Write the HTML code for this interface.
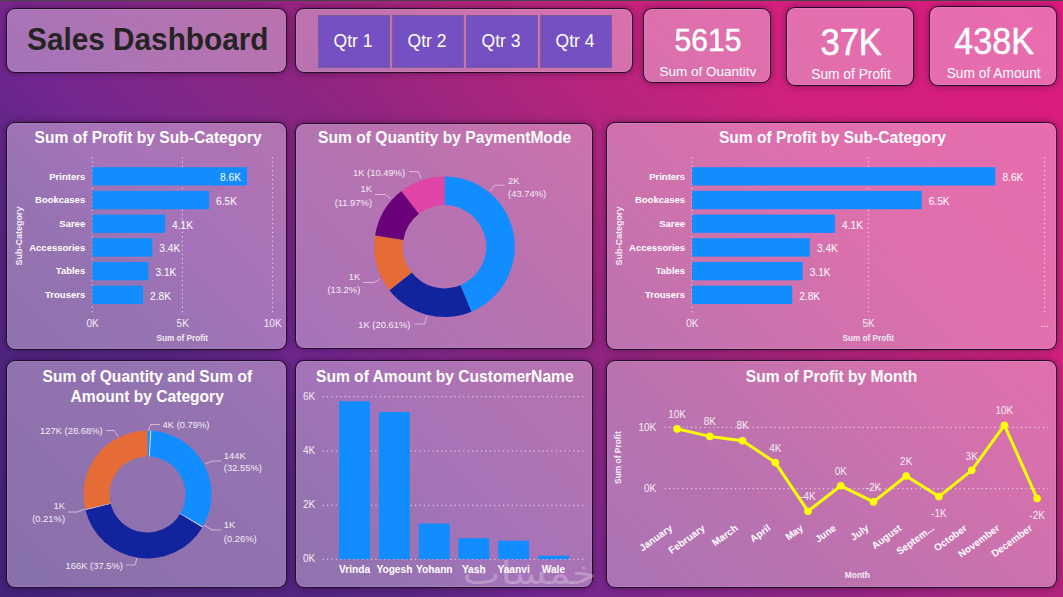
<!DOCTYPE html>
<html><head><meta charset="utf-8"><title>Sales Dashboard</title>
<style>
*{box-sizing:border-box;margin:0;padding:0}
html,body{width:1063px;height:597px;overflow:hidden}
body{position:relative;font-family:'Liberation Sans', Arial, sans-serif;
background:linear-gradient(45deg,#42237a 0%,#582684 25%,#712690 33%,#822788 42%,#8e2581 50%,#ac257e 62%,#d0217d 78%,#de1a80 100%);}
.topline{position:absolute;left:0;top:0;width:1063px;height:1px;background:#474747}
.p{position:absolute;background:rgba(255,246,255,0.37);border:1px solid rgba(28,8,34,0.95);border-radius:9px;box-shadow:0 0 7px rgba(30,0,30,0.45),inset 0 0 0 1px rgba(255,255,255,0.08)}
.title{display:flex;align-items:center;justify-content:center;font-weight:700;font-size:31px;color:#252423}
.btn{position:absolute;top:15px;height:53px;width:72px;background:#7450c2;border:1px solid #7d5a98;color:#fff;font-size:17.5px;display:flex;align-items:center;justify-content:center;padding-right:2px}
.card{color:#fff;text-align:center}
.card .v{position:absolute;left:0;right:0;}
.card .l{position:absolute;left:0;right:0;font-size:13.4px}
svg{position:absolute;left:0;top:0}
</style></head><body>
<div class="topline"></div>
<div class="p title" style="left:6px;top:8px;width:281px;height:65px;padding-left:3px;padding-bottom:1px"><span style="display:inline-block;transform:scaleX(0.96)">Sales Dashboard</span></div>
<div class="p" style="left:295px;top:8px;width:338px;height:65px"></div>
<div class="btn" style="left:318px">Qtr 1</div>
<div class="btn" style="left:392px">Qtr 2</div>
<div class="btn" style="left:466px">Qtr 3</div>
<div class="btn" style="left:540px">Qtr 4</div>
<div class="p" style="left:643px;top:8px;width:128px;height:75px"></div>
<div class="p" style="left:786px;top:7px;width:128px;height:79px"></div>
<div class="p" style="left:929px;top:6px;width:128px;height:80px"></div>
<div class="p" style="left:6px;top:122px;width:281px;height:228px"></div>
<div class="p" style="left:295px;top:123px;width:298px;height:226px"></div>
<div class="p" style="left:606px;top:122px;width:451px;height:228px"></div>
<div class="p" style="left:6px;top:360px;width:281px;height:228px"></div>
<div class="p" style="left:295px;top:360px;width:298px;height:228px"></div>
<div class="p" style="left:606px;top:360px;width:451px;height:228px"></div>
<svg width="1063" height="597" viewBox="0 0 1063 597" font-family="'Liberation Sans', Arial, sans-serif">
<text x="148.1" y="143.2" font-size="15.6" font-weight="700" text-anchor="middle" fill="#fff" >Sum of Profit by Sub-Category</text>
<text x="444.6" y="143.2" font-size="15.6" font-weight="700" text-anchor="middle" fill="#fff" >Sum of Quantity by PaymentMode</text>
<text x="832.4" y="143.2" font-size="15.6" font-weight="700" text-anchor="middle" fill="#fff" >Sum of Profit by Sub-Category</text>
<text x="147.4" y="382.0" font-size="15.6" font-weight="700" text-anchor="middle" fill="#fff" >Sum of Quantity and Sum of</text>
<text x="147.2" y="402.0" font-size="15.6" font-weight="700" text-anchor="middle" fill="#fff" >Amount by Category</text>
<text x="444.8" y="381.9" font-size="15.6" font-weight="700" text-anchor="middle" fill="#fff" >Sum of Amount by CustomerName</text>
<text x="831.6" y="381.5" font-size="15.6" font-weight="700" text-anchor="middle" fill="#fff" >Sum of Profit by Month</text>
<line x1="92.3" y1="157" x2="92.3" y2="314" stroke="#fff" stroke-opacity="0.75" stroke-width="1" stroke-dasharray="1.2 3.2"/>
<line x1="182.4" y1="157" x2="182.4" y2="314" stroke="#fff" stroke-opacity="0.75" stroke-width="1" stroke-dasharray="1.2 3.2"/>
<line x1="272.4" y1="157" x2="272.4" y2="314" stroke="#fff" stroke-opacity="0.75" stroke-width="1" stroke-dasharray="1.2 3.2"/>
<rect x="92.3" y="167.2" width="154.7" height="18.3" fill="#118dff"/>
<text x="85.2" y="179.6" font-size="9.5" font-weight="700" text-anchor="end" fill="#fff" >Printers</text>
<text x="241.0" y="181.2" font-size="10.2" font-weight="400" text-anchor="end" fill="#fff" >8.6K</text>
<rect x="92.3" y="190.9" width="116.8" height="18.3" fill="#118dff"/>
<text x="85.2" y="203.3" font-size="9.5" font-weight="700" text-anchor="end" fill="#fff" >Bookcases</text>
<text x="216.1" y="204.9" font-size="10.2" font-weight="400" text-anchor="start" fill="#fff" >6.5K</text>
<rect x="92.3" y="214.6" width="72.8" height="18.3" fill="#118dff"/>
<text x="85.2" y="227.0" font-size="9.5" font-weight="700" text-anchor="end" fill="#fff" >Saree</text>
<text x="172.1" y="228.6" font-size="10.2" font-weight="400" text-anchor="start" fill="#fff" >4.1K</text>
<rect x="92.3" y="238.3" width="60.0" height="18.3" fill="#118dff"/>
<text x="85.2" y="250.7" font-size="9.5" font-weight="700" text-anchor="end" fill="#fff" >Accessories</text>
<text x="159.3" y="252.3" font-size="10.2" font-weight="400" text-anchor="start" fill="#fff" >3.4K</text>
<rect x="92.3" y="262.0" width="56.1" height="18.3" fill="#118dff"/>
<text x="85.2" y="274.4" font-size="9.5" font-weight="700" text-anchor="end" fill="#fff" >Tables</text>
<text x="155.4" y="276.0" font-size="10.2" font-weight="400" text-anchor="start" fill="#fff" >3.1K</text>
<rect x="92.3" y="285.7" width="50.7" height="18.3" fill="#118dff"/>
<text x="85.2" y="298.1" font-size="9.5" font-weight="700" text-anchor="end" fill="#fff" >Trousers</text>
<text x="150.0" y="299.7" font-size="10.2" font-weight="400" text-anchor="start" fill="#fff" >2.8K</text>
<text x="92.6" y="326.9" font-size="10.0" font-weight="400" text-anchor="middle" fill="#f4ecf4" >0K</text>
<text x="182.70000000000002" y="326.9" font-size="10.0" font-weight="400" text-anchor="middle" fill="#f4ecf4" >5K</text>
<text x="272.7" y="326.9" font-size="10.0" font-weight="400" text-anchor="middle" fill="#f4ecf4" >10K</text>
<text x="182.2" y="340.5" font-size="8.2" font-weight="700" text-anchor="middle" fill="#f4ecf4" >Sum of Profit</text>
<text x="0" y="0" font-size="9.0" font-weight="700" text-anchor="middle" fill="#f4ecf4" transform="translate(22.2,236) rotate(-90)">Sub-Category</text>
<line x1="692.0" y1="157" x2="692.0" y2="314" stroke="#fff" stroke-opacity="0.75" stroke-width="1" stroke-dasharray="1.2 3.2"/>
<line x1="868.3" y1="157" x2="868.3" y2="314" stroke="#fff" stroke-opacity="0.75" stroke-width="1" stroke-dasharray="1.2 3.2"/>
<line x1="1044.6" y1="157" x2="1044.6" y2="314" stroke="#fff" stroke-opacity="0.75" stroke-width="1" stroke-dasharray="1.2 3.2"/>
<rect x="692.0" y="167.2" width="303.4" height="18.3" fill="#118dff"/>
<text x="685.1" y="179.6" font-size="9.5" font-weight="700" text-anchor="end" fill="#fff" >Printers</text>
<text x="1002.4" y="181.2" font-size="10.2" font-weight="400" text-anchor="start" fill="#fff" >8.6K</text>
<rect x="692.0" y="190.9" width="229.7" height="18.3" fill="#118dff"/>
<text x="685.1" y="203.3" font-size="9.5" font-weight="700" text-anchor="end" fill="#fff" >Bookcases</text>
<text x="928.7" y="204.9" font-size="10.2" font-weight="400" text-anchor="start" fill="#fff" >6.5K</text>
<rect x="692.0" y="214.6" width="143.0" height="18.3" fill="#118dff"/>
<text x="685.1" y="227.0" font-size="9.5" font-weight="700" text-anchor="end" fill="#fff" >Saree</text>
<text x="842.0" y="228.6" font-size="10.2" font-weight="400" text-anchor="start" fill="#fff" >4.1K</text>
<rect x="692.0" y="238.3" width="117.9" height="18.3" fill="#118dff"/>
<text x="685.1" y="250.7" font-size="9.5" font-weight="700" text-anchor="end" fill="#fff" >Accessories</text>
<text x="816.9" y="252.3" font-size="10.2" font-weight="400" text-anchor="start" fill="#fff" >3.4K</text>
<rect x="692.0" y="262.0" width="110.7" height="18.3" fill="#118dff"/>
<text x="685.1" y="274.4" font-size="9.5" font-weight="700" text-anchor="end" fill="#fff" >Tables</text>
<text x="809.7" y="276.0" font-size="10.2" font-weight="400" text-anchor="start" fill="#fff" >3.1K</text>
<rect x="692.0" y="285.7" width="100.2" height="18.3" fill="#118dff"/>
<text x="685.1" y="298.1" font-size="9.5" font-weight="700" text-anchor="end" fill="#fff" >Trousers</text>
<text x="799.2" y="299.7" font-size="10.2" font-weight="400" text-anchor="start" fill="#fff" >2.8K</text>
<text x="692.3" y="326.9" font-size="10.0" font-weight="400" text-anchor="middle" fill="#f4ecf4" >0K</text>
<text x="868.5999999999999" y="326.9" font-size="10.0" font-weight="400" text-anchor="middle" fill="#f4ecf4" >5K</text>
<text x="1044.8999999999999" y="326.9" font-size="10.0" font-weight="400" text-anchor="middle" fill="#f4ecf4" >...</text>
<text x="868.3" y="340.5" font-size="8.2" font-weight="700" text-anchor="middle" fill="#f4ecf4" >Sum of Profit</text>
<text x="0" y="0" font-size="9.0" font-weight="700" text-anchor="middle" fill="#f4ecf4" transform="translate(621.7,236) rotate(-90)">Sub-Category</text>
<path d="M444.50,176.40 A70.3,70.3 0 0 1 471.44,311.63 L460.48,285.22 A41.7,41.7 0 0 0 444.50,205.00 Z" fill="#118dff"/>
<path d="M471.44,311.63 A70.3,70.3 0 0 1 389.36,290.31 L411.79,272.57 A41.7,41.7 0 0 0 460.48,285.22 Z" fill="#12239e"/>
<path d="M389.36,290.31 A70.3,70.3 0 0 1 375.10,235.48 L403.33,240.05 A41.7,41.7 0 0 0 411.79,272.57 Z" fill="#e66c37"/>
<path d="M375.10,235.48 A70.3,70.3 0 0 1 401.48,191.10 L418.98,213.72 A41.7,41.7 0 0 0 403.33,240.05 Z" fill="#6b007b"/>
<path d="M401.48,191.10 A70.3,70.3 0 0 1 444.54,176.40 L444.53,205.00 A41.7,41.7 0 0 0 418.98,213.72 Z" fill="#e044a7"/>
<polyline points="504.6,185.2 494.6,185.2 490.2,191.1" stroke="#e8c8e4" stroke-width="0.8" fill="none"/>
<text x="508.1" y="183.5" font-size="9.4" font-weight="400" text-anchor="start" fill="#f4ecf4" >2K</text>
<text x="508.1" y="197.3" font-size="9.4" font-weight="400" text-anchor="start" fill="#f4ecf4" >(43.74%)</text>
<polyline points="409,171.7 418.2,171.7 421.1,178.5" stroke="#e8c8e4" stroke-width="0.8" fill="none"/>
<text x="405.1" y="176.4" font-size="9.4" font-weight="400" text-anchor="end" fill="#f4ecf4" >1K (10.49%)</text>
<polyline points="375.2,194.5 385.5,194.5 390.5,198.7" stroke="#e8c8e4" stroke-width="0.8" fill="none"/>
<text x="372" y="192" font-size="9.4" font-weight="400" text-anchor="end" fill="#f4ecf4" >1K</text>
<text x="372" y="205.8" font-size="9.4" font-weight="400" text-anchor="end" fill="#f4ecf4" >(11.97%)</text>
<polyline points="363.1,282.5 374.1,282.5 379.8,279.2" stroke="#e8c8e4" stroke-width="0.8" fill="none"/>
<text x="360.3" y="279.9" font-size="9.4" font-weight="400" text-anchor="end" fill="#f4ecf4" >1K</text>
<text x="360.3" y="293.4" font-size="9.4" font-weight="400" text-anchor="end" fill="#f4ecf4" >(13.2%)</text>
<polyline points="414.7,324 424.7,324 426.5,316.6" stroke="#e8c8e4" stroke-width="0.8" fill="none"/>
<text x="410.4" y="328.3" font-size="9.4" font-weight="400" text-anchor="end" fill="#f4ecf4" >1K (20.61%)</text>
<path d="M147.50,430.50 A64,64 0 0 1 150.68,430.58 L149.39,456.55 A38,38 0 0 0 147.50,456.50 Z" fill="#118dff"/>
<path d="M150.68,430.58 A64,64 0 0 1 202.91,526.52 L180.40,513.51 A38,38 0 0 0 149.39,456.55 Z" fill="#118dff"/>
<path d="M202.91,526.52 A64,64 0 0 1 202.38,527.42 L180.09,514.05 A38,38 0 0 0 180.40,513.51 Z" fill="#dfe6f5"/>
<path d="M202.38,527.42 A64,64 0 0 1 85.41,510.03 L110.64,503.72 A38,38 0 0 0 180.09,514.05 Z" fill="#12239e"/>
<path d="M85.41,510.03 A64,64 0 0 1 85.21,509.21 L110.52,503.23 A38,38 0 0 0 110.64,503.72 Z" fill="#dfe6f5"/>
<path d="M85.21,509.21 A64,64 0 0 1 147.46,430.50 L147.48,456.50 A38,38 0 0 0 110.52,503.23 Z" fill="#e66c37"/>
<line x1="149.39" y1="456.55" x2="150.68" y2="430.58" stroke="#e8eefa" stroke-width="0.9"/>
<text x="162.6" y="427.8" font-size="9.4" font-weight="400" text-anchor="start" fill="#f4ecf4" >4K (0.79%)</text>
<polyline points="160,424.5 150.5,424.5 148.5,431" stroke="#e8c8e4" stroke-width="0.8" fill="none"/>
<text x="102.6" y="434" font-size="9.4" font-weight="400" text-anchor="end" fill="#f4ecf4" >127K (28.68%)</text>
<polyline points="106,430.5 114,430.5 118,436.5" stroke="#e8c8e4" stroke-width="0.8" fill="none"/>
<text x="223.8" y="458.8" font-size="9.4" font-weight="400" text-anchor="start" fill="#f4ecf4" >144K</text>
<text x="223.8" y="471.2" font-size="9.4" font-weight="400" text-anchor="start" fill="#f4ecf4" >(32.55%)</text>
<polyline points="221,461 212,461 205,464" stroke="#e8c8e4" stroke-width="0.8" fill="none"/>
<text x="65" y="509.3" font-size="9.4" font-weight="400" text-anchor="end" fill="#f4ecf4" >1K</text>
<text x="65" y="521.7" font-size="9.4" font-weight="400" text-anchor="end" fill="#f4ecf4" >(0.21%)</text>
<polyline points="68,512 78,512 84,509" stroke="#e8c8e4" stroke-width="0.8" fill="none"/>
<text x="223.8" y="527.9" font-size="9.4" font-weight="400" text-anchor="start" fill="#f4ecf4" >1K</text>
<text x="223.8" y="542.4" font-size="9.4" font-weight="400" text-anchor="start" fill="#f4ecf4" >(0.26%)</text>
<polyline points="221,530 212,530 204,525" stroke="#e8c8e4" stroke-width="0.8" fill="none"/>
<text x="122.9" y="568.5" font-size="9.4" font-weight="400" text-anchor="end" fill="#f4ecf4" >166K (37.5%)</text>
<polyline points="126,565 135,565 137,558" stroke="#e8c8e4" stroke-width="0.8" fill="none"/>
<line x1="322.5" y1="396.8" x2="586" y2="396.8" stroke="#fff" stroke-opacity="0.75" stroke-width="1" stroke-dasharray="1.2 3.2"/>
<text x="315.2" y="399.90000000000003" font-size="10.0" font-weight="400" text-anchor="end" fill="#f4ecf4" >6K</text>
<line x1="322.5" y1="450.9" x2="586" y2="450.9" stroke="#fff" stroke-opacity="0.75" stroke-width="1" stroke-dasharray="1.2 3.2"/>
<text x="315.2" y="454.0" font-size="10.0" font-weight="400" text-anchor="end" fill="#f4ecf4" >4K</text>
<line x1="322.5" y1="505.2" x2="586" y2="505.2" stroke="#fff" stroke-opacity="0.75" stroke-width="1" stroke-dasharray="1.2 3.2"/>
<text x="315.2" y="508.3" font-size="10.0" font-weight="400" text-anchor="end" fill="#f4ecf4" >2K</text>
<line x1="322.5" y1="559.2" x2="586" y2="559.2" stroke="#fff" stroke-opacity="0.75" stroke-width="1" stroke-dasharray="1.2 3.2"/>
<text x="315.2" y="562.3000000000001" font-size="10.0" font-weight="400" text-anchor="end" fill="#f4ecf4" >0K</text>
<rect x="339.1" y="401.3" width="31" height="157.9" fill="#118dff"/>
<text x="354.6" y="572.6" font-size="10.2" font-weight="700" text-anchor="middle" fill="#fff" >Vrinda</text>
<rect x="378.9" y="412.0" width="31" height="147.2" fill="#118dff"/>
<text x="394.4" y="572.6" font-size="10.2" font-weight="700" text-anchor="middle" fill="#fff" >Yogesh</text>
<rect x="418.8" y="523.5" width="31" height="35.7" fill="#118dff"/>
<text x="434.3" y="572.6" font-size="10.2" font-weight="700" text-anchor="middle" fill="#fff" >Yohann</text>
<rect x="458.3" y="538.2" width="31" height="21.0" fill="#118dff"/>
<text x="473.8" y="572.6" font-size="10.2" font-weight="700" text-anchor="middle" fill="#fff" >Yash</text>
<rect x="498.1" y="540.7" width="31" height="18.5" fill="#118dff"/>
<text x="513.6" y="572.6" font-size="10.2" font-weight="700" text-anchor="middle" fill="#fff" >Yaanvi</text>
<rect x="537.9" y="555.7" width="31" height="3.5" fill="#118dff"/>
<text x="553.4" y="572.6" font-size="10.2" font-weight="700" text-anchor="middle" fill="#fff" >Wale</text>
<text x="0" y="0" font-size="31" font-family="DejaVu Sans, sans-serif" text-anchor="middle" fill="#ffffff" fill-opacity="0.27" transform="translate(529.7,583.5) scale(1.3,1)">خمسات</text>
<line x1="664.6" y1="427.3" x2="1048" y2="427.3" stroke="#fff" stroke-opacity="0.75" stroke-width="1" stroke-dasharray="1.2 3.2"/>
<text x="656.2" y="430.6" font-size="10.0" font-weight="400" text-anchor="end" fill="#f4ecf4" >10K</text>
<line x1="664.6" y1="488.7" x2="1048" y2="488.7" stroke="#fff" stroke-opacity="0.75" stroke-width="1" stroke-dasharray="1.2 3.2"/>
<text x="656.2" y="492.0" font-size="10.0" font-weight="400" text-anchor="end" fill="#f4ecf4" >0K</text>
<polyline points="677.1,428.9 709.8,436.4 742.6,440.7 775.3,462.6 808.0,511.2 840.8,485.8 873.5,501.9 906.2,476.0 938.9,496.6 971.7,470.3 1004.4,425.2 1037.1,498.5" fill="none" stroke="#ffff00" stroke-width="3" stroke-linejoin="round"/>
<circle cx="677.1" cy="428.9" r="3.8" fill="#ffff00"/>
<circle cx="709.8" cy="436.4" r="3.8" fill="#ffff00"/>
<circle cx="742.6" cy="440.7" r="3.8" fill="#ffff00"/>
<circle cx="775.3" cy="462.6" r="3.8" fill="#ffff00"/>
<circle cx="808.0" cy="511.2" r="3.8" fill="#ffff00"/>
<circle cx="840.8" cy="485.8" r="3.8" fill="#ffff00"/>
<circle cx="873.5" cy="501.9" r="3.8" fill="#ffff00"/>
<circle cx="906.2" cy="476.0" r="3.8" fill="#ffff00"/>
<circle cx="938.9" cy="496.6" r="3.8" fill="#ffff00"/>
<circle cx="971.7" cy="470.3" r="3.8" fill="#ffff00"/>
<circle cx="1004.4" cy="425.2" r="3.8" fill="#ffff00"/>
<circle cx="1037.1" cy="498.5" r="3.8" fill="#ffff00"/>
<text x="677.1" y="418.1" font-size="10.0" font-weight="400" text-anchor="middle" fill="#f4ecf4" >10K</text>
<text x="709.8" y="425.4" font-size="10.0" font-weight="400" text-anchor="middle" fill="#f4ecf4" >8K</text>
<text x="742.6" y="429.4" font-size="10.0" font-weight="400" text-anchor="middle" fill="#f4ecf4" >8K</text>
<text x="775.3" y="451.7" font-size="10.0" font-weight="400" text-anchor="middle" fill="#f4ecf4" >4K</text>
<text x="808.0" y="500.0" font-size="10.0" font-weight="400" text-anchor="middle" fill="#f4ecf4" >-4K</text>
<text x="840.8" y="474.6" font-size="10.0" font-weight="400" text-anchor="middle" fill="#f4ecf4" >0K</text>
<text x="873.5" y="490.6" font-size="10.0" font-weight="400" text-anchor="middle" fill="#f4ecf4" >-2K</text>
<text x="906.2" y="465.2" font-size="10.0" font-weight="400" text-anchor="middle" fill="#f4ecf4" >2K</text>
<text x="938.9" y="516.9" font-size="10.0" font-weight="400" text-anchor="middle" fill="#f4ecf4" >-1K</text>
<text x="971.7" y="459.9" font-size="10.0" font-weight="400" text-anchor="middle" fill="#f4ecf4" >3K</text>
<text x="1004.4" y="413.9" font-size="10.0" font-weight="400" text-anchor="middle" fill="#f4ecf4" >10K</text>
<text x="1037.1" y="518.9" font-size="10.0" font-weight="400" text-anchor="middle" fill="#f4ecf4" >-2K</text>
<text x="0" y="0" font-size="9.9" font-weight="700" text-anchor="end" fill="#fff" transform="translate(673.1,529.5) rotate(-36)">January</text>
<text x="0" y="0" font-size="9.9" font-weight="700" text-anchor="end" fill="#fff" transform="translate(705.8,529.5) rotate(-36)">February</text>
<text x="0" y="0" font-size="9.9" font-weight="700" text-anchor="end" fill="#fff" transform="translate(738.6,529.5) rotate(-36)">March</text>
<text x="0" y="0" font-size="9.9" font-weight="700" text-anchor="end" fill="#fff" transform="translate(771.3,529.5) rotate(-36)">April</text>
<text x="0" y="0" font-size="9.9" font-weight="700" text-anchor="end" fill="#fff" transform="translate(804.0,529.5) rotate(-36)">May</text>
<text x="0" y="0" font-size="9.9" font-weight="700" text-anchor="end" fill="#fff" transform="translate(836.8,529.5) rotate(-36)">June</text>
<text x="0" y="0" font-size="9.9" font-weight="700" text-anchor="end" fill="#fff" transform="translate(869.5,529.5) rotate(-36)">July</text>
<text x="0" y="0" font-size="9.9" font-weight="700" text-anchor="end" fill="#fff" transform="translate(902.2,529.5) rotate(-36)">August</text>
<text x="0" y="0" font-size="9.9" font-weight="700" text-anchor="end" fill="#fff" transform="translate(934.9,529.5) rotate(-36)">Septem...</text>
<text x="0" y="0" font-size="9.9" font-weight="700" text-anchor="end" fill="#fff" transform="translate(967.7,529.5) rotate(-36)">October</text>
<text x="0" y="0" font-size="9.9" font-weight="700" text-anchor="end" fill="#fff" transform="translate(1000.4,529.5) rotate(-36)">November</text>
<text x="0" y="0" font-size="9.9" font-weight="700" text-anchor="end" fill="#fff" transform="translate(1033.1,529.5) rotate(-36)">December</text>
<text x="857.4" y="578.2" font-size="8.4" font-weight="700" text-anchor="middle" fill="#f4ecf4" >Month</text>
<text x="0" y="0" font-size="8.4" font-weight="700" text-anchor="middle" fill="#f4ecf4" transform="translate(621,457.6) rotate(-90)">Sum of Profit</text>
<text x="0" y="0" font-size="31.6" fill="#fff" stroke="#fff" stroke-width="0.5" text-anchor="middle" transform="translate(708,50.5) scale(0.95,1)">5615</text>
<text x="0" y="0" font-size="36.7" fill="#fff" stroke="#fff" stroke-width="0.5" text-anchor="middle" transform="translate(851.2,54.6) scale(0.94,1)">37K</text>
<text x="0" y="0" font-size="36.9" fill="#fff" stroke="#fff" stroke-width="0.5" text-anchor="middle" transform="translate(994.1,53.7) scale(0.925,1)">438K</text>
<clipPath id="c1"><rect x="640" y="60" width="135" height="16.6"/></clipPath>
<text x="707.9" y="75.6" font-size="13.5" fill="#fff" text-anchor="middle" clip-path="url(#c1)">Sum of Quantity</text>
<text x="851" y="78.8" font-size="13.75" fill="#fff" text-anchor="middle">Sum of Profit</text>
<text x="993.7" y="77.7" font-size="13.75" fill="#fff" text-anchor="middle">Sum of Amount</text>
</svg>
</body></html>
